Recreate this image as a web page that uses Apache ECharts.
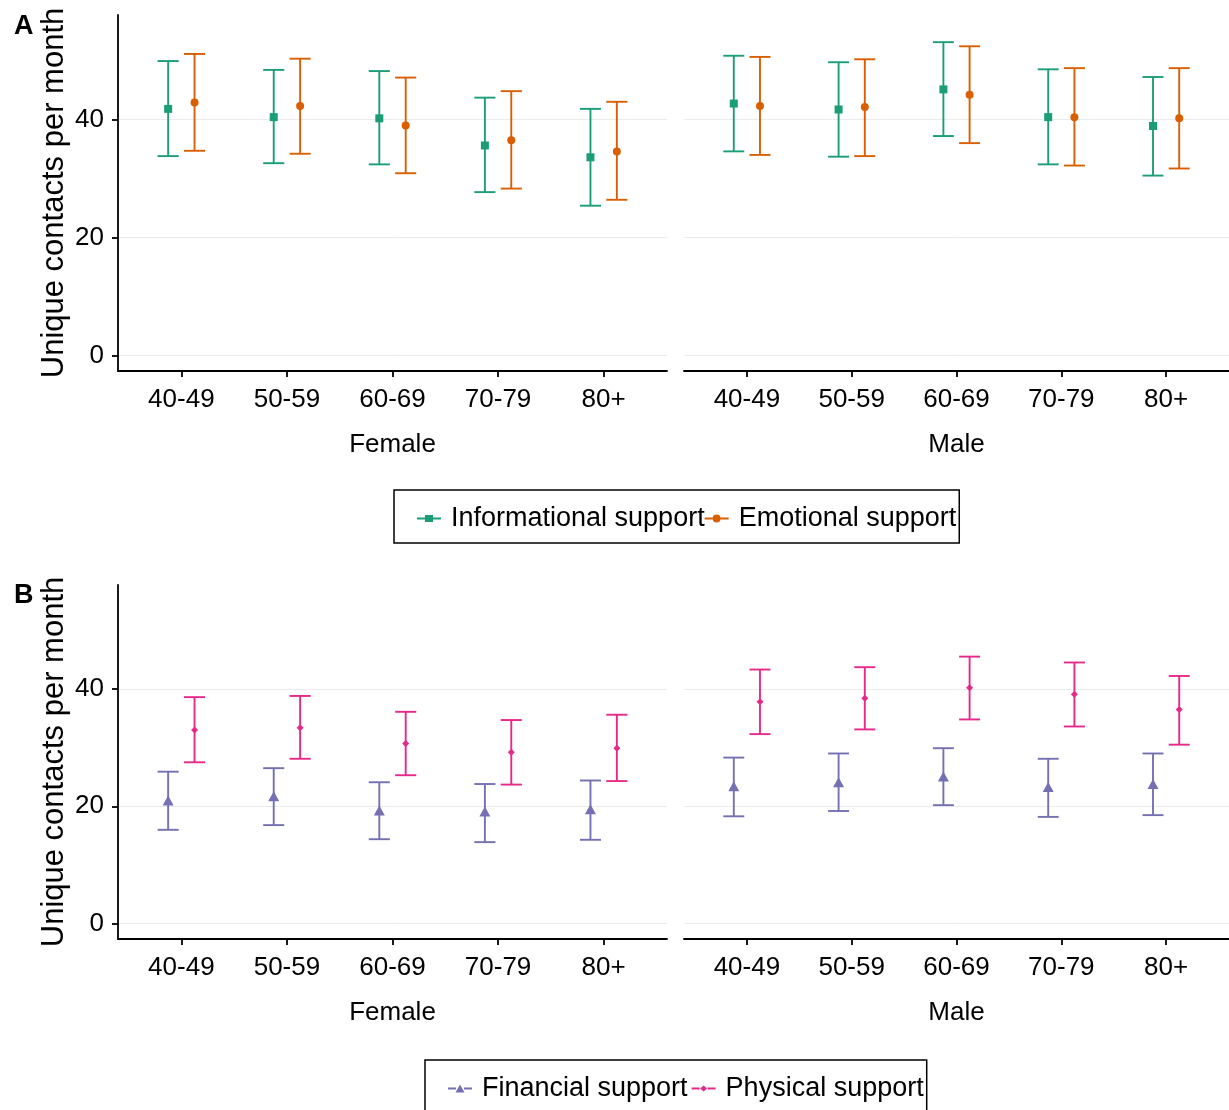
<!DOCTYPE html>
<html>
<head>
<meta charset="utf-8">
<script src="https://cdn.jsdelivr.net/npm/echarts@6/dist/echarts.min.js"></script>
<style>
  html, body { margin: 0; padding: 0; background: #fff; }
  #main { width: 1229px; height: 1110px; }
</style>
</head>
<body>
<div id="main"></div>
<script>
// age groups on the x axis, same for both facets
const ageGroups = ['40-49', '50-59', '60-69', '70-79', '80+'];
const yTicks = [0, 20, 40];

// panel A - informational support (mean, lower, upper)
const infoFemaleMean = [41.8, 40.4, 40.2, 35.6, 33.6];
const infoFemaleLow  = [33.8, 32.6, 32.4, 27.7, 25.4];
const infoFemaleHigh = [49.9, 48.4, 48.2, 43.7, 41.8];
const infoMaleMean   = [42.7, 41.7, 45.1, 40.4, 38.9];
const infoMaleLow    = [34.6, 33.7, 37.2, 32.4, 30.5];
const infoMaleHigh   = [50.8, 49.7, 53.1, 48.5, 47.2];

// panel A - emotional support
const emoFemaleMean = [42.9, 42.3, 39.0, 36.5, 34.6];
const emoFemaleLow  = [34.7, 34.2, 30.9, 28.3, 26.4];
const emoFemaleHigh = [51.1, 50.3, 47.1, 44.8, 43.0];
const emoMaleMean   = [42.3, 42.1, 44.2, 40.4, 40.2];
const emoMaleLow    = [34.0, 33.8, 36.0, 32.2, 31.7];
const emoMaleHigh   = [50.6, 50.2, 52.4, 48.7, 48.7];

// panel B - financial support
const finFemaleMean = [21.0, 21.7, 19.3, 19.1, 19.5];
const finFemaleLow  = [16.0, 16.8, 14.4, 13.9, 14.3];
const finFemaleHigh = [25.9, 26.5, 24.1, 23.8, 24.4];
const finMaleMean   = [23.4, 24.1, 25.1, 23.3, 23.8];
const finMaleLow    = [18.3, 19.2, 20.2, 18.2, 18.5];
const finMaleHigh   = [28.3, 29.0, 29.9, 28.1, 29.0];

// panel B - physical support
const physFemaleMean = [33.0, 33.4, 30.7, 29.2, 29.9];
const physFemaleLow  = [27.5, 28.1, 25.3, 23.7, 24.3];
const physFemaleHigh = [38.6, 38.8, 36.1, 34.7, 35.6];
const physMaleMean   = [37.8, 38.4, 40.2, 39.1, 36.5];
const physMaleLow    = [32.3, 33.1, 34.8, 33.6, 30.5];
const physMaleHigh   = [43.3, 43.7, 45.5, 44.5, 42.2];

const GREEN = '#1B9E77', ORANGE = '#D95F02', PURPLE = '#7570B3', PINK = '#E7298A';
const DODGE = 0.125, CAP = 0.1;
const FONT = 'Liberation Sans, Arial, sans-serif';

let myChart = echarts.init(document.getElementById('main'));

function makeSeries(name, color, symbol, size, idx, offset, mean, lo, hi) {
    let bars = mean.map((m, i) => [i + 1 + offset, lo[i], hi[i]]);
    let pts = mean.map((m, i) => [i + 1 + offset, m]);
    return [
        {
            name: name,
            type: 'custom',
            xAxisIndex: idx,
            yAxisIndex: idx,
            encode: { x: 0, y: [1, 2] },
            itemStyle: { color: color },
            data: bars,
            z: 2,
            renderItem: function (params, api) {
                let x = api.value(0);
                let top = api.coord([x, api.value(2)]);
                let bot = api.coord([x, api.value(1)]);
                let l1 = api.coord([x - CAP, api.value(2)]);
                let r1 = api.coord([x + CAP, api.value(2)]);
                let l2 = api.coord([x - CAP, api.value(1)]);
                let r2 = api.coord([x + CAP, api.value(1)]);
                let style = { stroke: color, lineWidth: 1.9 };
                return {
                    type: 'group',
                    children: [
                        { type: 'line', shape: { x1: top[0], y1: top[1], x2: bot[0], y2: bot[1] }, style: style },
                        { type: 'line', shape: { x1: l1[0], y1: l1[1], x2: r1[0], y2: r1[1] }, style: style },
                        { type: 'line', shape: { x1: l2[0], y1: l2[1], x2: r2[0], y2: r2[1] }, style: style }
                    ]
                };
            }
        },
        {
            name: name,
            type: 'scatter',
            xAxisIndex: idx,
            yAxisIndex: idx,
            symbol: symbol,
            symbolSize: size,
            itemStyle: { color: color, opacity: 1 },
            data: pts,
            z: 3
        }
    ];
}

// grids: 0 A-female, 1 A-male, 2 B-female, 3 B-male
let grids = [
    { left: 118, top: 15, width: 549, height: 356 },
    { left: 684, top: 15, width: 549, height: 356 },
    { left: 118, top: 585, width: 549, height: 354 },
    { left: 684, top: 585, width: 549, height: 354 }
];

let xAxes = grids.map((g, i) => ({
    type: 'value',
    gridIndex: i,
    min: 0.4,
    max: 5.6,
    name: i % 2 === 0 ? 'Female' : 'Male',
    nameLocation: 'middle',
    nameGap: 61,
    nameTextStyle: { fontSize: 26, color: '#000', fontFamily: FONT },
    axisLine: { show: true, onZero: false, lineStyle: { color: '#000', width: 1.8 } },
    axisTick: { show: true, length: 6, customValues: [1, 2, 3, 4, 5], lineStyle: { color: '#000', width: 1.8 } },
    axisLabel: {
        customValues: [1, 2, 3, 4, 5],
        formatter: v => ageGroups[Math.round(v) - 1],
        fontSize: 26, color: '#000', fontFamily: FONT, margin: 16
    },
    splitLine: { show: false }
}));

let yAxes = grids.map((g, i) => {
    let left = i % 2 === 0;
    return {
        type: 'value',
        gridIndex: i,
        min: -2.6,
        max: 57.7,
        name: left ? 'Unique contacts per month' : '',
        nameLocation: 'middle',
        nameGap: 48,
        nameTextStyle: { fontSize: 31, color: '#000', fontFamily: FONT },
        axisLine: { show: left, onZero: false, lineStyle: { color: '#000', width: 1.8 } },
        axisTick: { show: left, length: 6, customValues: yTicks, lineStyle: { color: '#000', width: 1.8 } },
        axisLabel: { show: left, customValues: yTicks, fontSize: 26, color: '#000', fontFamily: FONT, margin: 14 },
        splitLine: { show: true, lineStyle: { color: '#EBEBEB', width: 1 } }
    };
});

let series = [].concat(
    makeSeries('Informational support', GREEN, 'rect', 8, 0, -DODGE, infoFemaleMean, infoFemaleLow, infoFemaleHigh),
    makeSeries('Emotional support', ORANGE, 'circle', 8, 0, DODGE, emoFemaleMean, emoFemaleLow, emoFemaleHigh),
    makeSeries('Informational support', GREEN, 'rect', 8, 1, -DODGE, infoMaleMean, infoMaleLow, infoMaleHigh),
    makeSeries('Emotional support', ORANGE, 'circle', 8, 1, DODGE, emoMaleMean, emoMaleLow, emoMaleHigh),
    makeSeries('Financial support', PURPLE, 'triangle', [11, 10], 2, -DODGE, finFemaleMean, finFemaleLow, finFemaleHigh),
    makeSeries('Physical support', PINK, 'diamond', 7, 2, DODGE, physFemaleMean, physFemaleLow, physFemaleHigh),
    makeSeries('Financial support', PURPLE, 'triangle', [11, 10], 3, -DODGE, finMaleMean, finMaleLow, finMaleHigh),
    makeSeries('Physical support', PINK, 'diamond', 7, 3, DODGE, physMaleMean, physMaleLow, physMaleHigh)
);

// legend keys: line with the marker in the middle
const keyLine = 'M0,4L8,4L8,6L0,6Z M16,4L24,4L24,6L16,6Z ';
const iconSquare = 'path://' + keyLine + 'M8,1.5L16,1.5L16,8.5L8,8.5Z';
const iconCircle = 'path://' + keyLine + 'M8,5A4,4 0 1 0 16,5A4,4 0 1 0 8,5Z';
const iconTriangle = 'path://' + keyLine + 'M12,1L16.5,9L7.5,9Z';
const iconDiamond = 'path://' + keyLine + 'M12,2L15.5,5L12,8L8.5,5Z';

let legendBase = {
    orient: 'horizontal',
    itemWidth: 24,
    itemHeight: 10,
    borderColor: '#000',
    borderWidth: 1.5,
    borderRadius: 0,
    textStyle: { fontSize: 27, color: '#000', fontFamily: FONT, padding: [0, 0, 0, 5] },
    selectedMode: false
};

let option = {
    animation: false,
    backgroundColor: '#fff',
    title: [
        { text: 'A', left: 9, top: 8, textStyle: { fontSize: 27, fontWeight: 'bold', color: '#000', fontFamily: FONT } },
        { text: 'B', left: 9, top: 577, textStyle: { fontSize: 27, fontWeight: 'bold', color: '#000', fontFamily: FONT } }
    ],
    grid: grids,
    xAxis: xAxes,
    yAxis: yAxes,
    legend: [
        Object.assign({}, legendBase, {
            left: 394, top: 490,
            padding: [15, 3, 11, 23],
            itemGap: 0,
            data: [
                { name: 'Informational support', icon: iconSquare, itemStyle: { color: GREEN } },
                { name: 'Emotional support', icon: iconCircle, itemStyle: { color: ORANGE } }
            ]
        }),
        Object.assign({}, legendBase, {
            left: 425, top: 1060,
            padding: [15, 3, 11, 23],
            itemGap: 4,
            data: [
                { name: 'Financial support', icon: iconTriangle, itemStyle: { color: PURPLE } },
                { name: 'Physical support', icon: iconDiamond, itemStyle: { color: PINK } }
            ]
        })
    ],
    series: series
};

myChart.setOption(option);
</script>
</body>
</html>
